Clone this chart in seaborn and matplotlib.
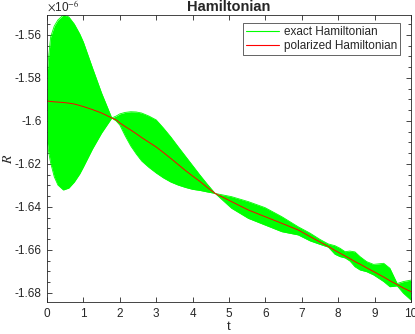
import numpy as np
import matplotlib
matplotlib.use("Agg")
import matplotlib.pyplot as plt
import seaborn as sns
from matplotlib.ticker import MultipleLocator, FormatStrFormatter

# --------------------------------------------------
# Data (values in units of 1e-6)
# --------------------------------------------------
t = [0.0, 0.05, 0.1, 0.2, 0.3, 0.45, 0.6, 0.75, 0.9, 1.0, 1.25, 1.5, 1.78,
     1.9, 2.0, 2.15, 2.3, 2.45, 2.6, 2.8, 3.0, 3.2, 3.4, 3.6, 3.8, 4.0, 4.2, 4.4, 4.62,
     5.07, 5.53, 5.99, 6.45, 6.90, 7.23, 7.5, 7.73, 7.91, 8.05, 8.19,
     8.32, 8.46, 8.60, 8.78, 8.97, 9.25, 9.42, 9.62, 9.79, 10.0]

exact_upper = [-1.5786, -1.5693, -1.5609, -1.5558, -1.5530, -1.5507, -1.5516, -1.5549,
               -1.5595, -1.5633, -1.5753, -1.5870, -1.5986,
               -1.5977, -1.5967, -1.5960, -1.5957, -1.5958, -1.5963, -1.5977, -1.5995,
               -1.6033, -1.6074, -1.6119, -1.6163, -1.6207, -1.6251, -1.6293, -1.6337,
               -1.6352, -1.6375, -1.6403, -1.6445, -1.6492, -1.6522, -1.6551, -1.6572,
               -1.6580, -1.6592, -1.6608, -1.6605, -1.6609, -1.6631, -1.6654, -1.6667,
               -1.6662, -1.6685, -1.6756, -1.6747, -1.6740]

exact_lower = [-1.6088, -1.6149, -1.6195, -1.6260, -1.6298, -1.6321, -1.6312, -1.6284,
               -1.6246, -1.6214, -1.6130, -1.6056, -1.5986,
               -1.6000, -1.6019, -1.6070, -1.6116, -1.6153, -1.6186, -1.6216, -1.6242,
               -1.6265, -1.6284, -1.6298, -1.6309, -1.6318, -1.6323, -1.6330, -1.6337,
               -1.6406, -1.6453, -1.6484, -1.6515, -1.6530, -1.6558, -1.6574, -1.6587,
               -1.6620, -1.6631, -1.6637, -1.6651, -1.6678, -1.6693, -1.6701, -1.6716,
               -1.6747, -1.6771, -1.6767, -1.6801, -1.6833]

polarized = [-1.5907, -1.5908, -1.5909, -1.5911, -1.5912, -1.5914, -1.5917, -1.5921,
             -1.5928, -1.5933, -1.5947, -1.5963, -1.5986,
             -1.5995, -1.6009, -1.6026, -1.6042, -1.6059, -1.6077, -1.6099, -1.6121,
             -1.6147, -1.6174, -1.6202, -1.6230, -1.6256, -1.6281, -1.6309, -1.6337,
             -1.6375, -1.6414, -1.6445, -1.6476, -1.6507, -1.6538, -1.6563, -1.6584,
             -1.6602, -1.6615, -1.6628, -1.6640, -1.6654, -1.6666, -1.6683, -1.6700,
             -1.6726, -1.6743, -1.6761, -1.6777, -1.6794]

y_ticks = [-1.68, -1.66, -1.64, -1.62, -1.6, -1.58, -1.56]

# --------------------------------------------------
# Style
# --------------------------------------------------
sns.set_theme(style="ticks")
plt.rcParams["font.family"] = ["Liberation Sans", "DejaVu Sans"]
plt.rcParams["axes.unicode_minus"] = False
plt.rcParams["mathtext.fontset"] = "stix"

GREEN = "#00ff00"
RED = "#ff0000"
AX_COLOR = "#262626"

fig = plt.figure(figsize=(4.15, 3.34), dpi=100)
ax = fig.add_axes([47 / 415, 1 - 302 / 334, 364 / 415, 287 / 334])

# exact Hamiltonian band
ax.fill_between(t, exact_lower, exact_upper, color=GREEN, linewidth=0)
sns.lineplot(x=t, y=exact_upper, ax=ax, color=GREEN, linewidth=0.6,
             label="exact Hamiltonian")
sns.lineplot(x=t, y=exact_lower, ax=ax, color=GREEN, linewidth=0.6,
             legend=False)

# polarized Hamiltonian
sns.lineplot(x=t, y=polarized, ax=ax, color=RED, linewidth=0.7,
             label="polarized Hamiltonian")

ax.set_xlim(0, 10)
ax.set_ylim(-1.6842, -1.5507)
ax.set_xticks(range(0, 11))
ax.set_yticks(y_ticks)
ax.yaxis.set_minor_locator(MultipleLocator(0.005))
ax.yaxis.set_major_formatter(FormatStrFormatter("%g"))

for s in ax.spines.values():
    s.set_visible(True)
    s.set_color(AX_COLOR)
    s.set_linewidth(0.6)

ax.tick_params(which="both", direction="in", top=True, right=True,
               colors=AX_COLOR, width=0.6, labelsize=8.5)
ax.tick_params(which="major", length=3.5, pad=4)
ax.tick_params(which="minor", length=2)

ax.set_xlabel("t", fontsize=9.5, color=AX_COLOR, labelpad=1)
ax.set_ylabel("$R$", fontsize=10, color=AX_COLOR)
ax.yaxis.set_label_coords(-0.088, 0.5)
ax.set_title("Hamiltonian", fontsize=10.5, fontweight="bold", pad=3)

ax.text(0, 1.004, r"$\times$10$^{-6}$", transform=ax.transAxes,
        fontsize=8.5, color=AX_COLOR, ha="left", va="bottom",
        family=["Liberation Sans", "DejaVu Sans"])

leg = ax.legend(loc="upper right", bbox_to_anchor=(0.9698, 0.9721),
                borderaxespad=0, fontsize=8.5, handlelength=2.8,
                fancybox=False, framealpha=1, edgecolor=AX_COLOR,
                borderpad=0.25, labelspacing=0.15, handletextpad=0.4)
leg.get_frame().set_linewidth(0.5)
for line, c in zip(leg.get_lines(), [GREEN, RED]):
    line.set_color(c)
    line.set_linewidth(0.8)

fig.savefig("out.png", dpi=100)
plt.close(fig)
